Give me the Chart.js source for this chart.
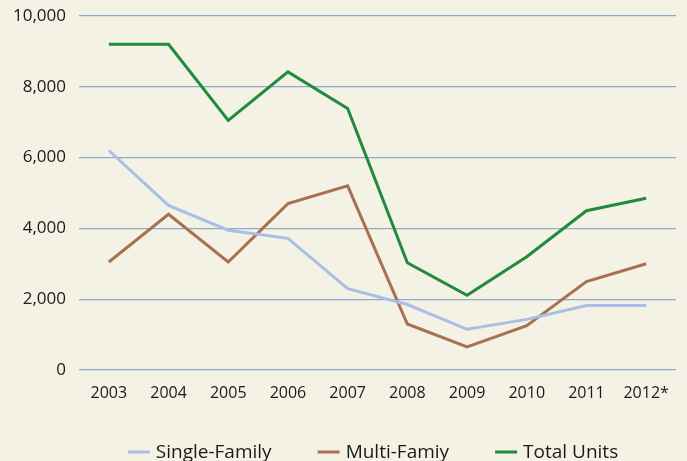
<!DOCTYPE html>
<html>
<head>
<meta charset="utf-8">
<script src="https://cdn.jsdelivr.net/npm/chart.js@4.4.1/dist/chart.umd.min.js"></script>
<style>
  html, body { margin: 0; padding: 0; background: #f4f2e4; }
  #wrap { width: 687px; height: 461px; position: relative; }
</style>
</head>
<body>
<div id="wrap"><canvas id="c" width="687" height="461"></canvas></div>
<script>
const categories = ["2003", "2004", "2005", "2006", "2007", "2008", "2009", "2010", "2011", "2012*"];
const singleFamily = [6200, 4650, 3950, 3720, 2300, 1850, 1150, 1430, 1820, 1820];
const multiFamily  = [3050, 4400, 3050, 4700, 5200, 1300, 650, 1250, 2500, 3000];
const totalUnits   = [9200, 9200, 7050, 8420, 7390, 3030, 2110, 3200, 4500, 4850];
const yTicks = [0, 2000, 4000, 6000, 8000, 10000];

const FONT = "'Open Sans', 'Noto Sans', sans-serif";

const bgPlugin = {
  id: 'bg',
  beforeDraw(chart) {
    const ctx = chart.ctx;
    ctx.save();
    ctx.fillStyle = '#f4f2e4';
    ctx.fillRect(0, 0, chart.width, chart.height);
    ctx.restore();
  }
};

const legendPlugin = {
  id: 'customLegend',
  afterDraw(chart) {
    const ctx = chart.ctx;
    const lineLen = 22, gapText = 6, gapItem = 46;
    ctx.save();
    ctx.font = "19px " + FONT;
    ctx.textBaseline = 'middle';
    ctx.textAlign = 'left';
    const items = chart.data.datasets.map(d => ({
      label: d.label, color: d.borderColor, w: ctx.measureText(d.label).width
    }));
    let total = 0;
    items.forEach((it, i) => { total += lineLen + gapText + it.w + (i < items.length - 1 ? gapItem : 0); });
    let x = 373 - total / 2;
    const y = 452;
    items.forEach(it => {
      ctx.strokeStyle = it.color;
      ctx.lineWidth = 3;
      ctx.beginPath();
      ctx.moveTo(x, y);
      ctx.lineTo(x + lineLen, y);
      ctx.stroke();
      ctx.fillStyle = '#1a1a1a';
      ctx.fillText(it.label, x + lineLen + gapText, y + 1);
      x += lineLen + gapText + it.w + gapItem;
    });
    ctx.restore();
  }
};

new Chart(document.getElementById('c'), {
  type: 'line',
  data: {
    labels: categories,
    datasets: [
      { label: 'Single-Family', data: singleFamily, borderColor: '#aabfe6', backgroundColor: '#aabfe6', borderWidth: 3, pointRadius: 0, tension: 0 },
      { label: 'Multi-Famiy', data: multiFamily, borderColor: '#a87252', backgroundColor: '#a87252', borderWidth: 3, pointRadius: 0, tension: 0 },
      { label: 'Total Units', data: totalUnits, borderColor: '#218a3c', backgroundColor: '#218a3c', borderWidth: 3, pointRadius: 0, tension: 0 }
    ]
  },
  options: {
    responsive: false,
    animation: false,
    devicePixelRatio: 1,
    layout: { padding: { top: 16, right: 11, bottom: 40, left: 0 } },
    plugins: {
      legend: { display: false },
      tooltip: { enabled: false }
    },
    scales: {
      x: {
        offset: true,
        grid: { display: false, drawTicks: false },
        border: { display: false },
        ticks: { color: '#1a1a1a', font: { family: FONT, size: 16 }, padding: 14, maxRotation: 0, autoSkip: false },
        afterFit(scale) { scale.height = 51; scale.paddingLeft = 0; scale.paddingRight = 0; }
      },
      y: {
        min: 0, max: 10000,
        afterBuildTicks(scale) { scale.ticks = yTicks.map(v => ({ value: v })); },
        grid: { color: '#8eaac4', lineWidth: 1.3, drawTicks: false },
        border: { display: false },
        ticks: {
          color: '#1a1a1a', font: { family: FONT, size: 17 }, padding: 13,
          callback: v => Number(v).toLocaleString('en-US')
        },
        afterFit(scale) { scale.width = 79; scale.paddingTop = 0; scale.paddingBottom = 0; }
      }
    }
  },
  plugins: [bgPlugin, legendPlugin]
});
</script>
</body>
</html>
